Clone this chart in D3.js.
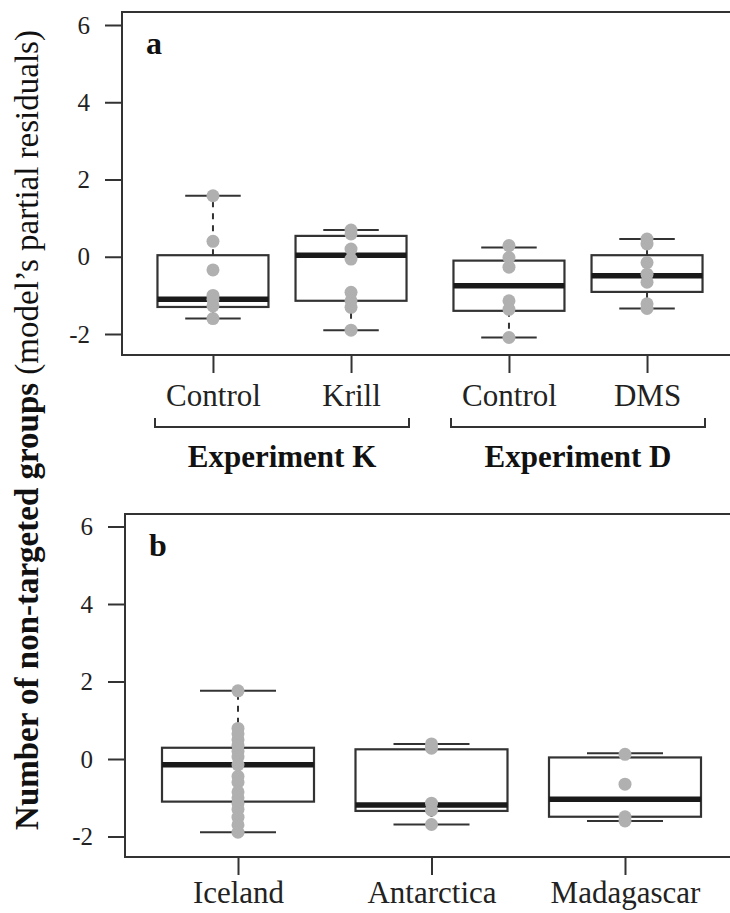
<!DOCTYPE html>
<html>
<head>
<meta charset="utf-8">
<script src="https://cdn.jsdelivr.net/npm/d3@7"></script>
<style>
  body { margin: 0; background: #fff; }
  svg, svg text { font-family: "Liberation Serif", "DejaVu Serif", "Times New Roman", serif !important; }
</style>
</head>
<body>
<svg width="730" height="913"></svg>
<script>
// panel a: the two experiments
const catA = ["Control", "Krill", "Control", "DMS"];
const expOfA = ["Experiment K", "Experiment K", "Experiment D", "Experiment D"];
const experiments = ["Experiment K", "Experiment D"];
const loA = [-1.60, -1.90, -2.09, -1.34];
const q1A = [-1.30, -1.14, -1.40, -0.91];
const medA = [-1.10, 0.04, -0.75, -0.49];
const q3A = [0.04, 0.54, -0.10, 0.04];
const hiA = [1.58, 0.69, 0.24, 0.46];
const ptsA = [
    [1.58, 0.40, -0.34, -1.00, -1.10, -1.27, -1.60],
    [0.69, 0.59, 0.20, -0.06, -0.92, -1.14, -1.31, -1.90],
    [0.29, -0.02, -0.27, -1.14, -1.36, -2.09],
    [0.46, 0.33, -0.15, -0.45, -0.66, -1.22, -1.34]
];

// panel b: the three regions
const catB = ["Iceland", "Antarctica", "Madagascar"];
const loB = [-1.89, -1.69, -1.60];
const q1B = [-1.10, -1.34, -1.49];
const medB = [-0.15, -1.19, -1.04];
const q3B = [0.29, 0.25, 0.04];
const hiB = [1.76, 0.39, 0.15];
const ptsB = [
    [1.76, 0.79, 0.65, 0.50, 0.35, 0.20, 0.05, -0.15, -0.45, -0.60, -0.85, -1.00, -1.15, -1.30, -1.50, -1.70, -1.89],
    [0.39, 0.28, -1.14, -1.32, -1.69],
    [0.12, -0.65, -1.49, -1.60]
];

const yTicks = [-2, 0, 2, 4, 6];

const svg = d3.select("svg");
const ink = "#333";
const grey = "#b0b0b0";
const serif = "'Liberation Serif', 'DejaVu Serif', serif";

function drawPanel(g, o) {
    // frame
    g.append("rect")
        .attr("x", o.left).attr("y", o.top)
        .attr("width", 760 - o.left).attr("height", o.bottom - o.top)
        .attr("fill", "none").attr("stroke", ink).attr("stroke-width", 2);

    const yAxis = d3.axisLeft(o.y).tickValues(yTicks).tickFormat(d => String(d))
        .tickSize(17).tickSizeOuter(0).tickPadding(15);
    const ya = g.append("g").attr("transform", `translate(${o.left},0)`).call(yAxis);
    ya.attr("font-family", null).attr("font-size", null);
    ya.select(".domain").remove();
    ya.selectAll("line").attr("stroke", ink).attr("stroke-width", 2);
    ya.selectAll("text").style("font-family", serif).attr("font-size", 25).attr("fill", "#222");

    const xAxis = d3.axisBottom(o.x).tickSize(18).tickSizeOuter(0).tickPadding(o.xPad).tickFormat((d, i) => o.cats[i]);
    const xa = g.append("g").attr("transform", `translate(0,${o.bottom})`).call(xAxis);
    xa.attr("font-family", null).attr("font-size", null);
    xa.select(".domain").remove();
    xa.selectAll("line").attr("stroke", ink).attr("stroke-width", 2);
    xa.selectAll("text").style("font-family", serif).attr("font-size", 31).attr("fill", "#222");

    const y = o.y;
    const boxes = g.selectAll(".box")
        .data(o.cats.map((c, i) => i))
        .enter().append("g")
        .classed("box", true)
        .attr("transform", i => `translate(${o.x(o.keys[i])},0)`);

    const hw = o.boxW / 2;
    const cw = o.boxW / 4;

    // whiskers
    boxes.append("line")
        .attr("x1", 0).attr("x2", 0)
        .attr("y1", i => y(o.q3[i])).attr("y2", i => y(o.hi[i]))
        .attr("stroke", ink).attr("stroke-width", 2).attr("stroke-dasharray", "6,6");
    boxes.append("line")
        .attr("x1", 0).attr("x2", 0)
        .attr("y1", i => y(o.q1[i])).attr("y2", i => y(o.lo[i]))
        .attr("stroke", ink).attr("stroke-width", 2).attr("stroke-dasharray", "6,6");
    boxes.append("line")
        .attr("x1", -cw).attr("x2", cw)
        .attr("y1", i => y(o.hi[i])).attr("y2", i => y(o.hi[i]))
        .attr("stroke", ink).attr("stroke-width", 2);
    boxes.append("line")
        .attr("x1", -cw).attr("x2", cw)
        .attr("y1", i => y(o.lo[i])).attr("y2", i => y(o.lo[i]))
        .attr("stroke", ink).attr("stroke-width", 2);

    // box
    boxes.append("rect")
        .attr("x", -hw).attr("width", o.boxW)
        .attr("y", i => y(o.q3[i]))
        .attr("height", i => y(o.q1[i]) - y(o.q3[i]))
        .attr("fill", "#fff").attr("stroke", ink).attr("stroke-width", 2.2);

    // median
    boxes.append("line")
        .attr("x1", -hw).attr("x2", hw)
        .attr("y1", i => y(o.med[i])).attr("y2", i => y(o.med[i]))
        .attr("stroke", "#1a1a1a").attr("stroke-width", 5.5);

    // points
    boxes.selectAll("circle")
        .data(i => o.pts[i])
        .enter().append("circle")
        .attr("cx", 0)
        .attr("cy", d => y(d))
        .attr("r", 6.5)
        .attr("fill", grey);

    // panel letter
    g.append("text")
        .attr("x", o.left + 24).attr("y", o.top + 42)
        .style("font-family", serif)
        .attr("font-size", 32).attr("font-weight", "bold").attr("fill", "#111")
        .text(o.letter);
}

// ----- panel a -----
const yA = d3.scaleLinear().domain([-2, 6]).range([334, 25]);
const outerA = d3.scaleBand().domain(experiments).range([134, 726]);
const innerA = d3.scalePoint().domain([0, 1]).range([0, outerA.bandwidth()]).padding(0.572);
const keysA = catA.map((c, i) => i);
const posA = keysA.map(i => outerA(expOfA[i]) + innerA(i % 2));
const xA = d3.scaleOrdinal().domain(keysA).range(posA);

const gA = svg.append("g");
drawPanel(gA, {
    left: 122, top: 12, bottom: 355,
    y: yA, x: xA, keys: keysA, cats: catA,
    lo: loA, q1: q1A, med: medA, q3: q3A, hi: hiA, pts: ptsA,
    boxW: 111, letter: "a", xPad: 11
});

// experiment brackets
const brackets = gA.selectAll(".bracket")
    .data(experiments)
    .enter().append("g")
    .classed("bracket", true);
brackets.append("path")
    .attr("d", e => {
        const x0 = outerA(e) + 21, x1 = outerA(e) + outerA.bandwidth() - 21;
        return `M${x0},418V427H${x1}V418`;
    })
    .attr("fill", "none").attr("stroke", ink).attr("stroke-width", 2);
brackets.append("text")
    .attr("x", e => outerA(e) + outerA.bandwidth() / 2)
    .attr("y", 467)
    .attr("text-anchor", "middle")
    .style("font-family", serif)
    .attr("font-size", 31).attr("font-weight", "bold").attr("fill", "#111")
    .text(e => e);

// ----- panel b -----
const yB = d3.scaleLinear().domain([-2, 6]).range([836.5, 526.5]);
const xB = d3.scalePoint().domain(catB).range([125, 738]).padding(0.584);

const gB = svg.append("g");
drawPanel(gB, {
    left: 125, top: 514, bottom: 857,
    y: yB, x: xB, keys: catB, cats: catB,
    lo: loB, q1: q1B, med: medB, q3: q3B, hi: hiB, pts: ptsB,
    boxW: 152, letter: "b", xPad: 6
});

// shared y title
const title = svg.append("text")
    .attr("transform", "translate(38,430) rotate(-90)")
    .attr("text-anchor", "middle")
    .style("font-family", serif)
    .attr("font-size", 33).attr("fill", "#111");
title.append("tspan").attr("font-weight", "bold").text("Number of non-targeted groups");
title.append("tspan").text(" (model\u2019s partial residuals)");
</script>
</body>
</html>
